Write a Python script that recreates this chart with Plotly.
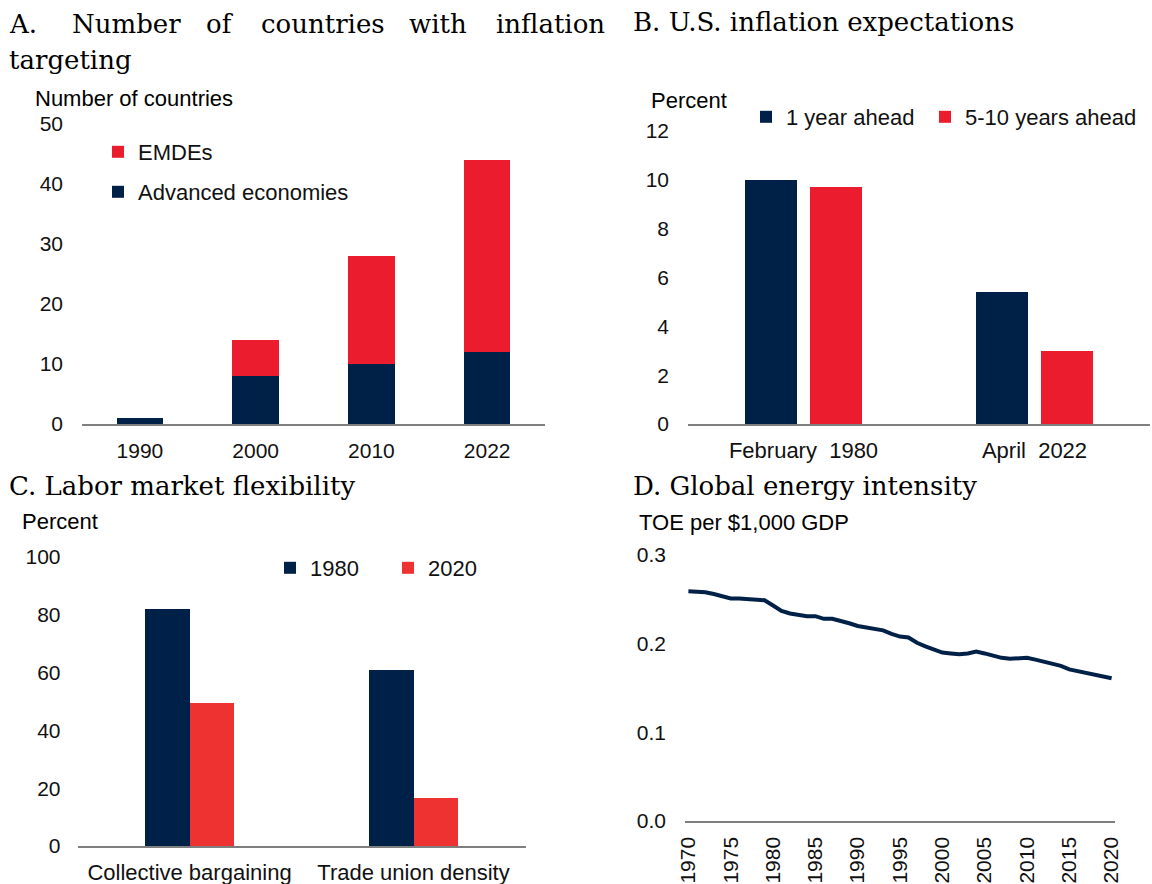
import plotly.graph_objects as go

W, H = 1152, 884

# ---------------- data ----------------
a_years = ["1990", "2000", "2010", "2022"]
a_advanced = [1, 8, 10, 12]
a_emdes = [0, 6, 18, 32]

b_periods = ["February  1980", "April  2022"]
b_one_year = [10.0, 5.4]
b_five_ten = [9.7, 3.0]

c_categories = ["Collective bargaining", "Trade union density"]
c_1980 = [82, 61]
c_2020 = [49.5, 16.5]

d_years = list(range(1970, 2021))
d_intensity = [0.259, 0.259, 0.258, 0.256, 0.253, 0.251, 0.251, 0.250, 0.250, 0.249,
               0.243, 0.237, 0.234, 0.232, 0.231, 0.231, 0.228, 0.228, 0.226, 0.223,
               0.220, 0.218, 0.217, 0.215, 0.211, 0.208, 0.207, 0.201, 0.197, 0.193,
               0.190, 0.189, 0.188, 0.189, 0.191, 0.189, 0.186, 0.184, 0.183, 0.183,
               0.184, 0.182, 0.180, 0.178, 0.175, 0.171, 0.169, 0.166, 0.165, 0.163,
               0.161]
d_ticks = list(range(1970, 2021, 5))

NAVY = "#002147"
RED = "#EB1C2D"
RED_C = "#EE3232"
SANS = "Arial, Liberation Sans, sans-serif"
SERIF = "DejaVu Serif, serif"
TXT = "#111111"


def px(x):
    return x / W


def py(y):
    return 1 - y / H


fig = go.Figure()

# Panel A
fig.add_trace(go.Bar(x=a_years, y=a_advanced, name="Advanced economies",
                     marker_color=NAVY, xaxis="x", yaxis="y", legend="legend2"))
fig.add_trace(go.Bar(x=a_years, y=a_emdes, name="EMDEs",
                     marker_color=RED, xaxis="x", yaxis="y", legend="legend"))
# Panel B
fig.add_trace(go.Bar(x=b_periods, y=b_one_year, name="1 year ahead",
                     marker_color=NAVY, xaxis="x2", yaxis="y2", legend="legend3",
                     offsetgroup="b1"))
fig.add_trace(go.Bar(x=b_periods, y=b_five_ten, name="5-10 years ahead",
                     marker_color=RED, xaxis="x2", yaxis="y2", legend="legend4",
                     offsetgroup="b2"))
# Panel C
fig.add_trace(go.Bar(x=c_categories, y=c_1980, name="1980",
                     marker_color=NAVY, xaxis="x3", yaxis="y3", legend="legend5",
                     offsetgroup="c1"))
fig.add_trace(go.Bar(x=c_categories, y=c_2020, name="2020",
                     marker_color=RED_C, xaxis="x3", yaxis="y3", legend="legend6",
                     offsetgroup="c2"))
# Panel D
fig.add_trace(go.Scatter(x=d_years, y=d_intensity, mode="lines", showlegend=False,
                         line=dict(color=NAVY, width=4), xaxis="x4", yaxis="y4"))

numfont = dict(family=SANS, size=21, color=TXT)
catfont = dict(family=SANS, size=22, color=TXT)
axis_line = dict(showline=True, linecolor="#7f7f7f", linewidth=1.5)


def xax(domain, anchor, **kw):
    d = dict(domain=domain, anchor=anchor, showgrid=False, zeroline=False,
             ticks="", tickfont=numfont, fixedrange=True, automargin=False,
             **axis_line)
    d.update(kw)
    return d


def yax(domain, anchor, rng, **kw):
    d = dict(domain=domain, anchor=anchor, range=rng, showgrid=False, zeroline=False,
             showline=False, ticks="", tickfont=numfont, fixedrange=True,
             automargin=False, ticklabelstandoff=18)
    d.update(kw)
    return d


layout = dict(
    width=W, height=H, margin=dict(l=0, r=0, t=0, b=0, pad=0, autoexpand=False),
    paper_bgcolor="white", plot_bgcolor="white",
    font=dict(family=SANS, size=22, color=TXT),
    barmode="stack",
    xaxis=xax([px(82), px(545)], "y", type="category", ticklabelstandoff=7),
    yaxis=yax([py(424), py(124)], "x", [0, 50], dtick=10),
    xaxis2=xax([px(688), px(1150)], "y2", type="category", ticklabelstandoff=6,
               tickfont=catfont),
    yaxis2=yax([py(424), py(131)], "x2", [0, 12], dtick=2),
    xaxis3=xax([px(77.5), px(525.5)], "y3", type="category", ticklabelstandoff=6,
               tickfont=catfont),
    yaxis3=yax([py(846), py(557)], "x3", [0, 100], dtick=20, ticklabelstandoff=16),
    xaxis4=xax([px(685), px(1115)], "y4", range=[1969.6, 2020.4], tickvals=d_ticks,
               tickangle=-90, ticklabelstandoff=6),
    yaxis4=yax([py(821), py(555)], "x4", [0, 0.3], dtick=0.1, tickformat=".1f"),
    bargap=0.6,
)

# legends: one per item so each swatch sits where the reference puts it
leg_common = dict(bgcolor="rgba(0,0,0,0)", borderwidth=0, xanchor="left",
                  yanchor="middle", font=dict(family=SANS, size=22, color=TXT),
                  itemclick=False, itemdoubleclick=False)
legend_pos = {
    "legend": (98, 152),
    "legend2": (98, 192),
    "legend3": (746, 117),
    "legend4": (925, 117),
    "legend5": (270, 568),
    "legend6": (388, 568),
}
for k, (lx, ly) in legend_pos.items():
    layout[k] = dict(x=px(lx), y=py(ly), **leg_common)

fig.update_layout(**layout)

# Panel B/C: side-by-side bars placed by explicit offsets within each category
fig.update_traces(selector=dict(xaxis="x2"), width=0.225)
fig.update_traces(selector=dict(xaxis="x3"), width=0.2)
fig.data[2].offset = -0.2525
fig.data[3].offset = 0.0275
fig.data[4].offset = -0.2
fig.data[5].offset = 0.0
fig.update_traces(selector=dict(type="bar"), marker_line_width=0)

annotations = []


def text(x, y, s, font_family=SANS, size=22, anchor="left"):
    annotations.append(dict(x=px(x), y=py(y), xref="paper", yref="paper", text=s,
                            showarrow=False, xanchor=anchor, yanchor="middle",
                            font=dict(family=font_family, size=size, color="#000000")))


# titles (panel A title is justified across the column)
title_words = [("A.", 7), ("Number", 70), ("of", 204), ("countries", 259),
               ("with", 407), ("inflation", 494)]
for w_, x_ in title_words:
    text(x_, 24, w_, SERIF, 26)
text(7, 60, "targeting", SERIF, 26)
text(631, 22, "B. U.S. inflation expectations", SERIF, 26)
text(7, 486, "C. Labor market flexibility", SERIF, 26)
text(631, 486, "D. Global energy intensity", SERIF, 26)

# axis unit labels
text(33, 98, "Number of countries")
text(649, 100, "Percent")
text(20, 521, "Percent")
text(637, 522, "TOE per $1,000 GDP")

fig.update_layout(annotations=annotations)

# let the figure sit flush in the window's top-left corner, without the modebar
fig.write_html("out.html",
               config={"displayModeBar": False, "staticPlot": True},
               post_script="document.body.style.margin='0';"
                           "document.body.style.overflow='hidden';")
